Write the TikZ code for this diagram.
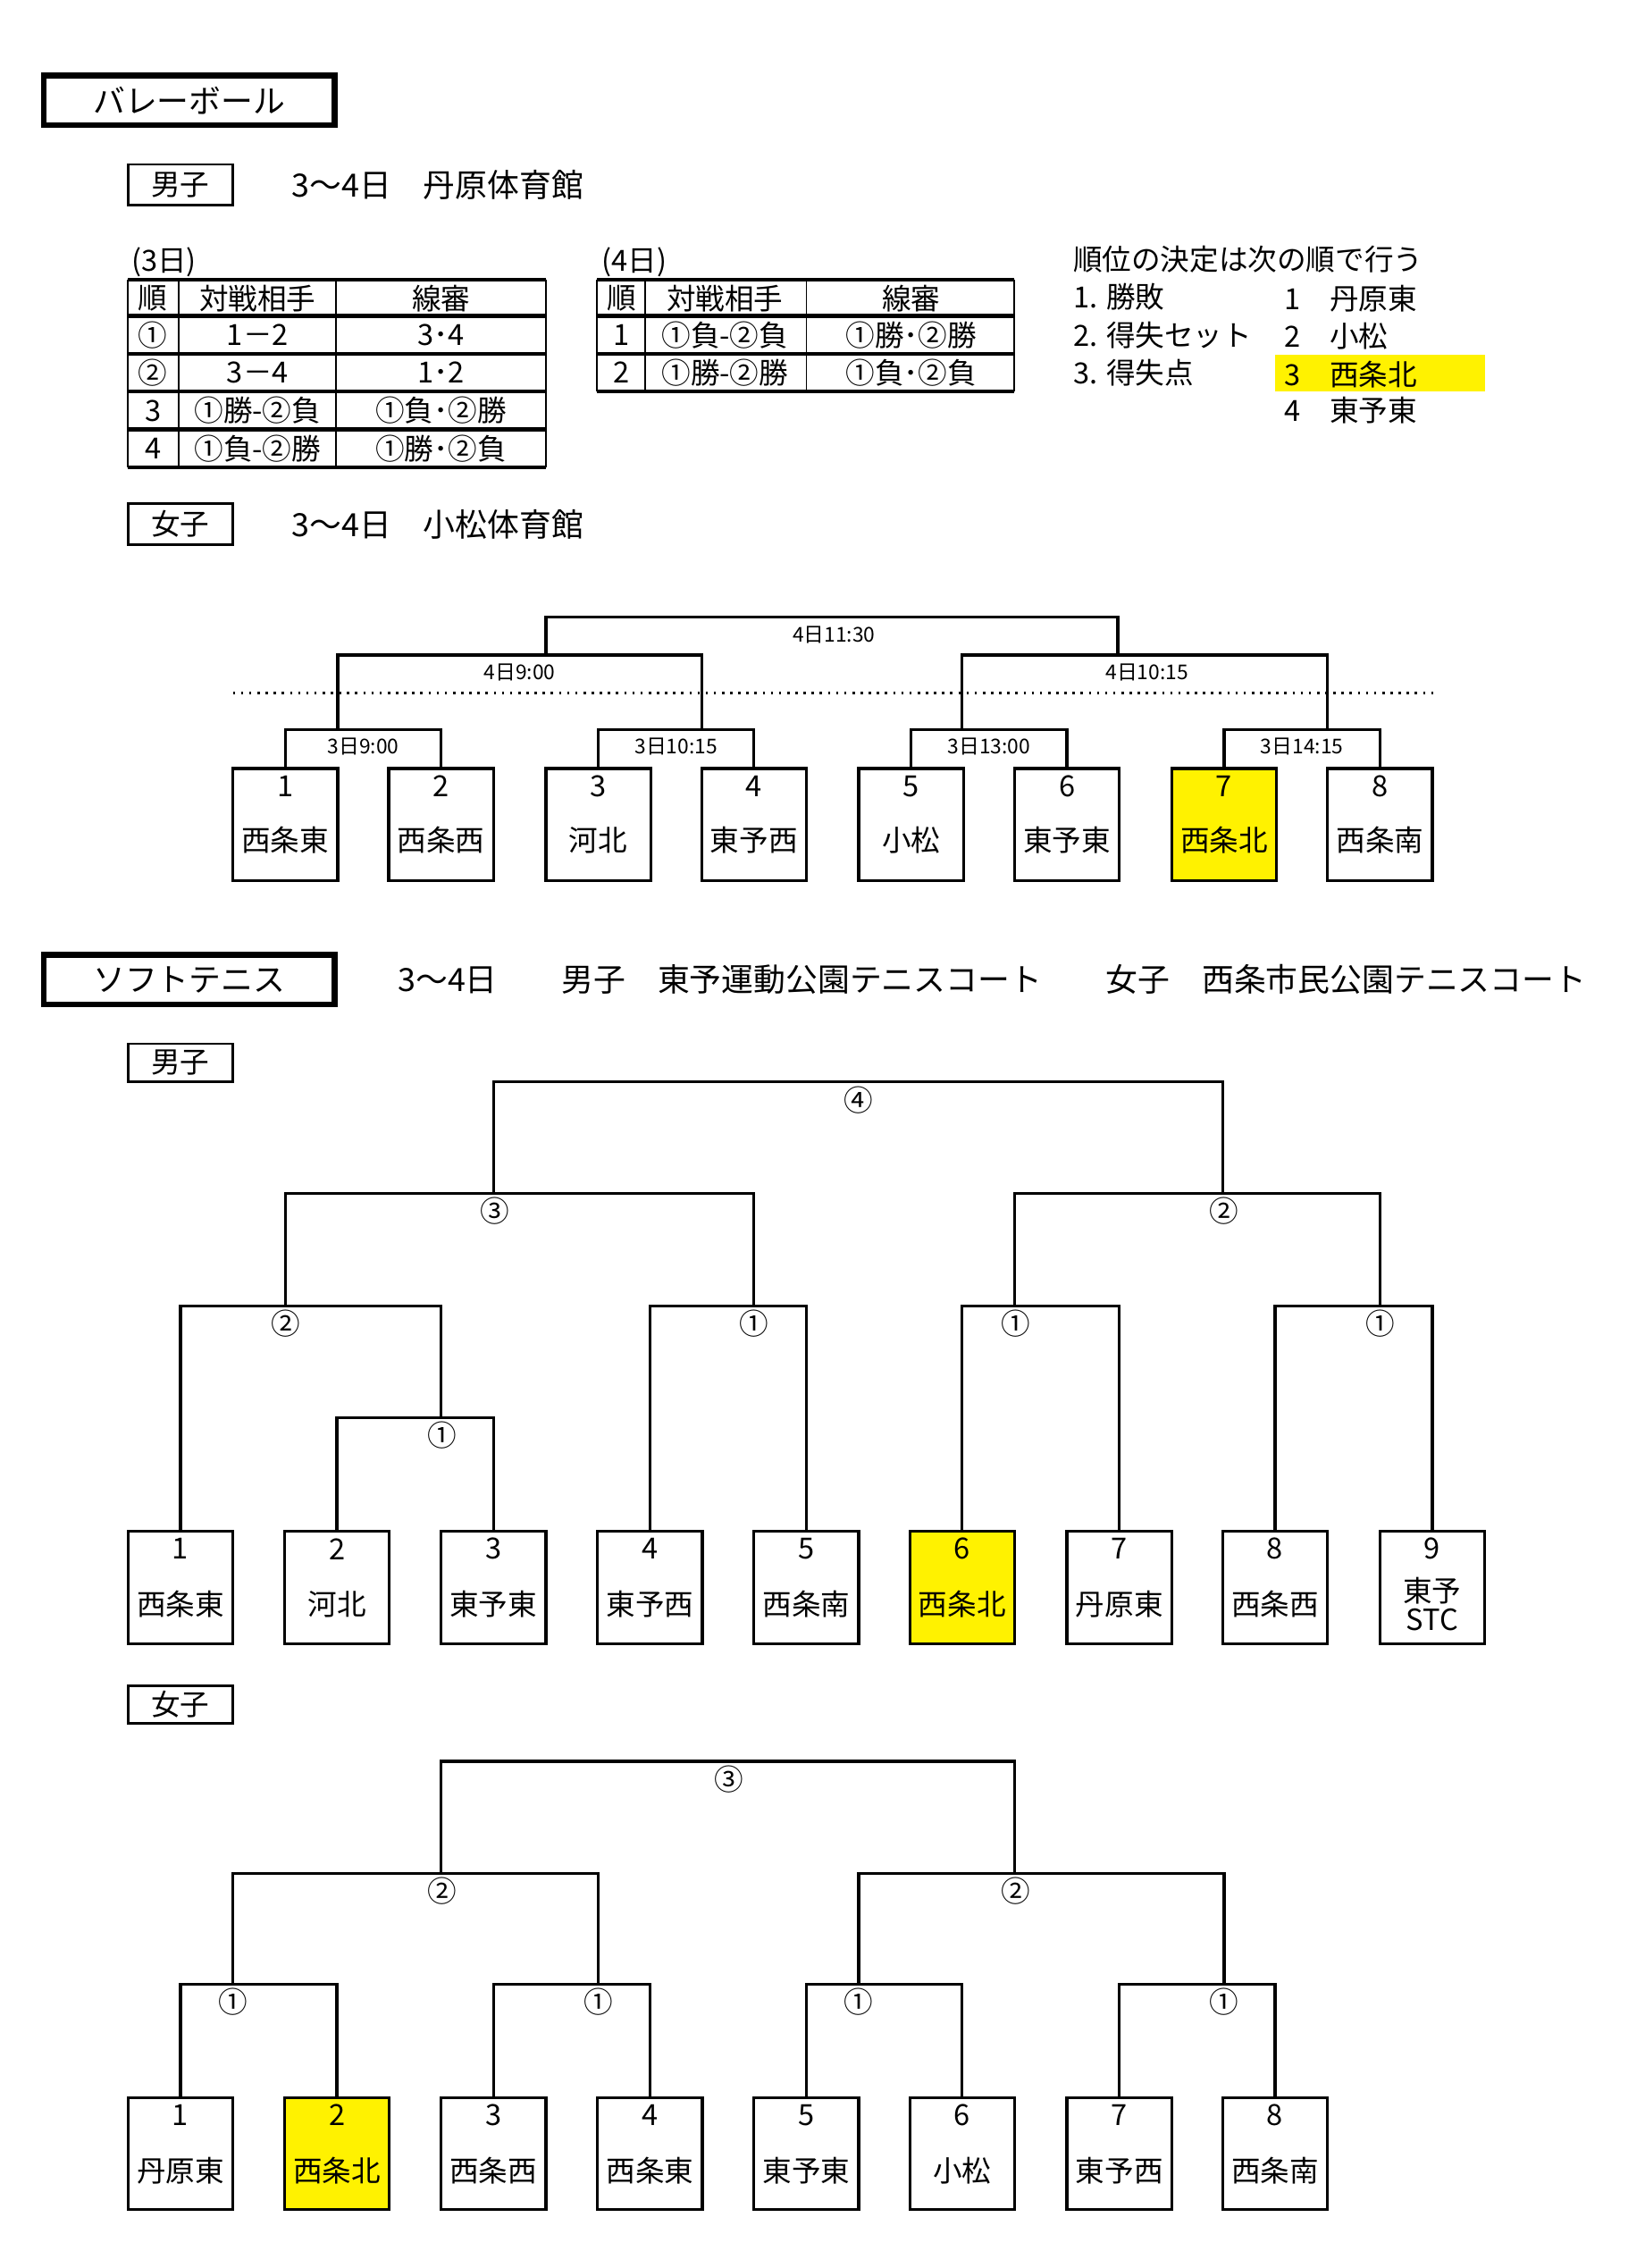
\documentclass[tikz,border=0pt]{standalone}
\usepackage{fontspec}
\setmainfont{Noto Sans CJK JP}
\usetikzlibrary{calc}
\begin{document}
\begin{tikzpicture}[x=0.5pt,y=-0.5pt,
  txt/.style={inner sep=0pt,font=\fontsize{10}{12}\selectfont},
  big/.style={inner sep=0pt,font=\fontsize{11}{13}\selectfont},
  sm/.style={inner sep=0pt,font=\fontsize{7}{8}\selectfont},
  team/.style={draw,line width=1pt,minimum width=36pt,minimum height=38.5pt,inner sep=0pt,anchor=north},
  br/.style={line width=1pt},
  thick/.style={line width=1.3pt}]
\useasboundingbox (0,0) rectangle (1130,1558);
\fill[white] (0,0) rectangle (1130,1558);
% ---------- Volleyball header
\node[draw,line width=2pt,minimum width=100pt,minimum height=17pt,big] (vb) at (130,69) {バレーボール};
\node[draw,line width=0.8pt,minimum width=36pt,minimum height=14pt,txt] (m1) at (124,127) {男子};
\node[big,anchor=west] (m1t) at (200,127) {3～4日　丹原体育館};
% table 1
\node[txt,anchor=west] (t1c) at (90,180) {(3日)};
\foreach \y in {192,217,243,269,295,321} \draw[thick] (88,\y) -- (375,\y);
\foreach \x in {88,123,231,375} \draw[line width=0.6pt] (\x,192) -- (\x,321);
\node[txt] (a00) at (105,205) {順};
\node[txt] (a01) at (177,205) {対戦相手};
\node[txt] (a02) at (303,205) {線審};
\node[txt] (a10) at (105,230) {①};
\node[txt] (a11) at (177,230) {1－2};
\node[txt] (a12) at (303,230) {3･4};
\node[txt] (a20) at (105,256) {②};
\node[txt] (a21) at (177,256) {3－4};
\node[txt] (a22) at (303,256) {1･2};
\node[txt] (a30) at (105,282) {3};
\node[txt] (a31) at (177,282) {①勝-②負};
\node[txt] (a32) at (303,282) {①負･②勝};
\node[txt] (a40) at (105,308) {4};
\node[txt] (a41) at (177,308) {①負-②勝};
\node[txt] (a42) at (303,308) {①勝･②負};
% table 2
\node[txt,anchor=west] (t2c) at (413,180) {(4日)};
\foreach \y in {192,217,243,269} \draw[thick] (410,\y) -- (697,\y);
\foreach \x in {410,443,554,697} \draw[line width=0.6pt] (\x,192) -- (\x,269);
\node[txt] (b00) at (427,205) {順};
\node[txt] (b01) at (498,205) {対戦相手};
\node[txt] (b02) at (626,205) {線審};
\node[txt] (b10) at (427,230) {1};
\node[txt] (b11) at (498,230) {①負-②負};
\node[txt] (b12) at (626,230) {①勝･②勝};
\node[txt] (b20) at (427,256) {2};
\node[txt] (b21) at (498,256) {①勝-②勝};
\node[txt] (b22) at (626,256) {①負･②負};
% ranking
\fill[yellow] (876,244) rectangle (1020,269);
\node[txt,anchor=west] (r0) at (737,178) {順位の決定は次の順で行う};
\node[txt,anchor=west] (r1) at (737,204) {1. 勝敗};
\node[txt,anchor=west] (r2) at (737,230) {2. 得失セット};
\node[txt,anchor=west] (r3) at (737,256) {3. 得失点};
\node[txt,anchor=west] (n1) at (882,205) {1　丹原東};
\node[txt,anchor=west] (n2) at (882,231) {2　小松};
\node[txt,anchor=west] (n3) at (882,257) {3　西条北};
\node[txt,anchor=west] (n4) at (882,282) {4　東予東};
% women volleyball
\node[draw,line width=0.8pt,minimum width=36pt,minimum height=14pt,txt] (w1) at (124,360) {女子};
\node[big,anchor=west] (w1t) at (200,360) {3～4日　小松体育館};
\foreach \i/\x/\nm/\c in {1/196/西条東/white,2/303/西条西/white,3/411/河北/white,4/518/東予西/white,5/626/小松/white,6/733/東予東/white,7/841/西条北/yellow,8/948/西条南/white}{
  \node[team,fill=\c] (v\i) at (\x,527) {};
  \node[txt] (vn\i) at (\x,540) {\i};
  \node[txt] (vm\i) at (\x,577) {\nm};
}
\foreach \a/\b/\l in {1/2/3日9:00,3/4/3日10:15,5/6/3日13:00,7/8/3日14:15}{
  \draw[br] (v\a.north) -- ++(0,-26) -| (v\b.north);
  \node[sm] at ($(v\a.north)!0.5!(v\b.north)+(0,-14)$) {\l};
}
\coordinate (q1) at (232,501); \coordinate (q2) at (482,501);
\coordinate (q3) at (661,501); \coordinate (q4) at (912,501);
\draw[br] (q1) -- (232,450) -- (482,450) -- (q2);
\draw[br] (q3) -- (661,450) -- (912,450) -- (q4);
\coordinate (s1) at (375,450); \coordinate (s2) at (768,450);
\draw[br] (s1) -- (375,424) -- (768,424) -- (s2);
\node[sm] (l1) at (357,462) {4日9:00};
\node[sm] (l2) at (788,462) {4日10:15};
\node[sm] (l3) at (573,436) {4日11:30};
\coordinate (d1) at (160,476); \coordinate (d2) at (985,476);
\draw[line width=0.8pt,dotted] (d1) -- (d2);
% ---------- Soft tennis
\node[draw,line width=2pt,minimum width=100pt,minimum height=17pt,big] (st) at (130,673) {ソフトテニス};
\node[big,anchor=west] (stt) at (273,673) {3～4日　　男子　東予運動公園テニスコート　　女子　西条市民公園テニスコート};
\node[draw,line width=0.8pt,minimum width=36pt,minimum height=13pt,txt] (m2) at (124,730) {男子};
\foreach \i/\x/\nm/\c in {1/124/西条東/white,2/231.5/河北/white,3/339/東予東/white,4/446.5/東予西/white,5/554/西条南/white,6/661/西条北/yellow,7/769/丹原東/white,8/876/西条西/white}{
  \node[team,fill=\c] (m\i) at (\x,1051) {};
  \node[txt] (mn\i) at (\x,1064) {\i};
  \node[txt] (mm\i) at (\x,1102) {\nm};
}
\node[team] (m9) at (984,1051) {};
\node[txt] (mn9) at (984,1064) {9};
\node[txt,align=center] (mm9) at (984,1102) {東予\\[-2pt]STC};
% men lines
\draw[br] (m2.north) -- (231.5,974) -- (339,974) -- (m3.north);
\draw[br] (m1.north) -- (124,897) -- (303,897) -- (303,974);
\draw[br] (m4.north) -- (446.5,897) -- (554,897) -- (m5.north);
\draw[br] (m6.north) -- (661,897) -- (769,897) -- (m7.north);
\draw[br] (m8.north) -- (876,897) -- (984,897) -- (m9.north);
\draw[br] (196,897) -- (196,820) -- (518,820) -- (518,897);
\draw[br] (697,897) -- (697,820) -- (948,820) -- (948,897);
\draw[br] (339,820) -- (339,743) -- (840,743) -- (840,820);
\node[txt] (c1) at (304,986) {①};
\node[txt] (c2) at (196,909) {②};
\node[txt] (c3) at (518,909) {①};
\node[txt] (c4) at (698,909) {①};
\node[txt] (c5) at (948,909) {①};
\node[txt] (c6) at (340,832) {③};
\node[txt] (c7) at (841,832) {②};
\node[txt] (c8) at (590,756) {④};
% women
\node[draw,line width=0.8pt,minimum width=36pt,minimum height=13pt,txt] (w2) at (124,1171) {女子};
\foreach \i/\x/\nm/\c in {1/124/丹原東/white,2/231.5/西条北/yellow,3/339/西条西/white,4/446.5/西条東/white,5/554/東予東/white,6/661/小松/white,7/769/東予西/white,8/876/西条南/white}{
  \node[team,fill=\c] (f\i) at (\x,1440) {};
  \node[txt] (fn\i) at (\x,1453) {\i};
  \node[txt] (fm\i) at (\x,1491) {\nm};
}
\foreach \a/\b in {1/2,3/4,5/6,7/8}{
  \draw[br] (f\a.north) -- ++(0,-77) -| (f\b.north);
}
\draw[br] (160,1363) -- (160,1287) -- (411,1287) -- (411,1363);
\draw[br] (590,1363) -- (590,1287) -- (841,1287) -- (841,1363);
\draw[br] (303,1287) -- (303,1210) -- (697,1210) -- (697,1287);
\node[txt] (e1) at (160,1375) {①};
\node[txt] (e2) at (411,1375) {①};
\node[txt] (e3) at (590,1375) {①};
\node[txt] (e4) at (841,1375) {①};
\node[txt] (e5) at (304,1299) {②};
\node[txt] (e6) at (698,1299) {②};
\node[txt] (e7) at (501,1222) {③};
\end{tikzpicture}
\end{document}
